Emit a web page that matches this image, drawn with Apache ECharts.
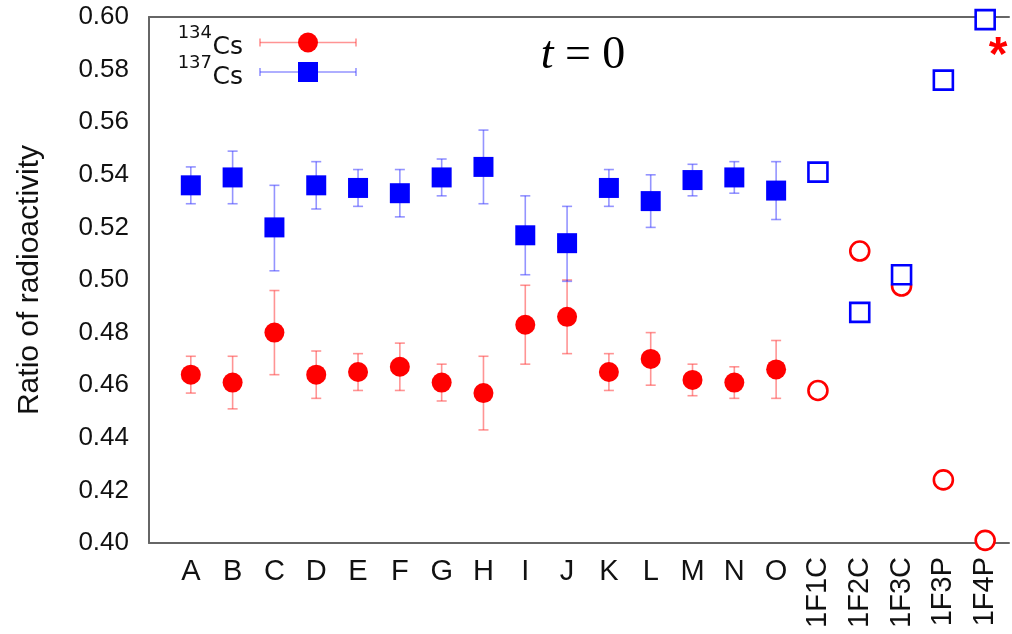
<!DOCTYPE html>
<html>
<head>
<meta charset="utf-8">
<script src="https://cdn.jsdelivr.net/npm/echarts@6/dist/echarts.min.js"></script>
<style>
html,body{margin:0;padding:0;background:#fff;}
#chart{width:1012px;height:634px;}
</style>
</head>
<body>
<div id="chart"></div>
<script>
// ---- data ----
var categories = ['A','B','C','D','E','F','G','H','I','J','K','L','M','N','O','1F1C','1F2C','1F3C','1F3P','1F4P'];
var cs134 = [0.464,0.461,0.480,0.464,0.465,0.467,0.461,0.457,0.483,0.486,0.465,0.470,0.462,0.461,0.466,0.458,0.511,0.4977,0.424,0.401];
var cs134Low = [0.457,0.451,0.464,0.455,0.458,0.458,0.454,0.443,0.468,0.472,0.458,0.460,0.456,0.455,0.455];
var cs134High = [0.471,0.471,0.496,0.473,0.472,0.476,0.468,0.471,0.498,0.500,0.472,0.480,0.468,0.467,0.477];
var cs137 = [0.536,0.539,0.520,0.536,0.535,0.533,0.539,0.543,0.517,0.514,0.535,0.530,0.538,0.539,0.534,0.541,0.4877,0.502,0.576,0.599];
var cs137Low = [0.529,0.529,0.5035,0.527,0.528,0.524,0.532,0.529,0.502,0.4995,0.528,0.520,0.532,0.533,0.523];
var cs137High = [0.543,0.549,0.536,0.545,0.542,0.542,0.546,0.557,0.532,0.528,0.542,0.540,0.544,0.545,0.545];
var yTicks = ['0.40','0.42','0.44','0.46','0.48','0.50','0.52','0.54','0.56','0.58','0.60'];
var nMeasured = 15;

// ---- build ----
function pts(vals, from, to) {
  var out = [];
  for (var i = from; i < to; i++) out.push([i, vals[i]]);
  return out;
}
function errs(lo, hi) {
  var out = [];
  for (var i = 0; i < lo.length; i++) out.push([i, lo[i], hi[i]]);
  return out;
}
function errRender(color) {
  return function (params, api) {
    var x = api.value(0);
    var a = api.coord([x, api.value(1)]);
    var b = api.coord([x, api.value(2)]);
    var w = 5;
    var st = { stroke: color, lineWidth: 1.6 };
    return {
      type: 'group',
      children: [
        { type: 'line', shape: { x1: a[0], y1: a[1], x2: b[0], y2: b[1] }, style: st },
        { type: 'line', shape: { x1: a[0] - w, y1: a[1], x2: a[0] + w, y2: a[1] }, style: st },
        { type: 'line', shape: { x1: b[0] - w, y1: b[1], x2: b[0] + w, y2: b[1] }, style: st }
      ]
    };
  };
}
function catLabel(lo, hi) {
  return function (v) {
    var i = Math.round(v);
    if (Math.abs(v - i) > 1e-6 || i < lo || i >= hi) return '';
    return categories[i];
  };
}
var axisLineStyle = { color: '#666', width: 2 };
var RED = '#ff0000', BLUE = '#0000ff';
var RED_ERR = 'rgba(255,60,60,0.55)', BLUE_ERR = 'rgba(60,60,255,0.55)';

var chart = echarts.init(document.getElementById('chart'), null, { renderer: 'canvas' });
var option = {
  animation: false,
  backgroundColor: '#fff',
  grid: { left: 149, top: 17, right: 0, bottom: 91, containLabel: false },
  xAxis: [
    {
      type: 'value', position: 'bottom', min: -1, max: 19.57, interval: 1,
      axisLine: { show: true, onZero: false, lineStyle: axisLineStyle },
      axisTick: { show: false }, splitLine: { show: false },
      axisLabel: { formatter: catLabel(0, nMeasured), fontSize: 29, fontFamily: 'Liberation Sans', color: '#111', margin: 14, showMinLabel: true, showMaxLabel: true }
    },
    {
      type: 'value', position: 'bottom', min: -1, max: 19.57, interval: 1,
      axisLine: { show: false, onZero: false }, axisTick: { show: false }, splitLine: { show: false },
      axisLabel: { formatter: catLabel(nMeasured, categories.length), rotate: 90, fontSize: 29, fontFamily: 'Liberation Sans', color: '#111', margin: 14 }
    },
    {
      type: 'value', position: 'top', min: -1, max: 19.57, interval: 1,
      axisLine: { show: true, onZero: false, lineStyle: axisLineStyle },
      axisTick: { show: false }, splitLine: { show: false }, axisLabel: { show: false }
    }
  ],
  yAxis: {
    type: 'value', min: 0.40, max: 0.60, interval: 0.02, position: 'left',
    name: 'Ratio of radioactivity', nameLocation: 'middle', nameGap: 104, nameRotate: 90,
    nameTextStyle: { fontSize: 30, fontFamily: 'Liberation Sans', color: '#111' },
    axisLine: { show: true, onZero: false, lineStyle: axisLineStyle },
    axisTick: { show: false }, splitLine: { show: false },
    axisLabel: {
      formatter: function (v) { return yTicks[Math.round((v - 0.40) / 0.02)] || ''; },
      fontSize: 26, fontFamily: 'Liberation Sans', color: '#111', margin: 20
    }
  },
  series: [
    { type: 'custom', name: '134Cs err', xAxisIndex: 0, renderItem: errRender(RED_ERR), data: errs(cs134Low, cs134High), z: 1, silent: true },
    { type: 'custom', name: '137Cs err', xAxisIndex: 0, renderItem: errRender(BLUE_ERR), data: errs(cs137Low, cs137High), z: 1, silent: true },
    { type: 'scatter', name: '134Cs', xAxisIndex: 0, symbol: 'circle', symbolSize: 20, clip: false,
      itemStyle: { color: RED, opacity: 1 }, data: pts(cs134, 0, nMeasured), z: 2 },
    { type: 'scatter', name: '134Cs site', xAxisIndex: 0, symbol: 'circle', symbolSize: 19, clip: false,
      itemStyle: { color: '#fff', borderColor: RED, borderWidth: 2.6, opacity: 1 }, data: pts(cs134, nMeasured, categories.length), z: 2 },
    { type: 'scatter', name: '137Cs', xAxisIndex: 0, symbol: 'rect', symbolSize: 20, clip: false,
      itemStyle: { color: BLUE, opacity: 1 }, data: pts(cs137, 0, nMeasured), z: 3 },
    { type: 'scatter', name: '137Cs site', xAxisIndex: 0, symbol: 'rect', symbolSize: 19, clip: false,
      itemStyle: { color: '#fff', borderColor: BLUE, borderWidth: 2.6, opacity: 1 }, data: pts(cs137, nMeasured, categories.length), z: 3 }
  ],
  graphic: [
    // legend: 134Cs
    { type: 'text', style: { x: 212, y: 33, text: '134', textAlign: 'right', textVerticalAlign: 'middle', font: '18px "DejaVu Sans"', fill: '#111' } },
    { type: 'text', style: { x: 243, y: 47, text: 'Cs', textAlign: 'right', textVerticalAlign: 'middle', font: '25px "DejaVu Sans"', fill: '#111' } },
    { type: 'line', shape: { x1: 260, y1: 42.5, x2: 356, y2: 42.5 }, style: { stroke: RED_ERR, lineWidth: 1.6 } },
    { type: 'line', shape: { x1: 260, y1: 38.5, x2: 260, y2: 46.5 }, style: { stroke: RED_ERR, lineWidth: 1.6 } },
    { type: 'line', shape: { x1: 356, y1: 38.5, x2: 356, y2: 46.5 }, style: { stroke: RED_ERR, lineWidth: 1.6 } },
    { type: 'circle', shape: { cx: 308, cy: 42.5, r: 10 }, style: { fill: RED } },
    // legend: 137Cs
    { type: 'text', style: { x: 212, y: 63, text: '137', textAlign: 'right', textVerticalAlign: 'middle', font: '18px "DejaVu Sans"', fill: '#111' } },
    { type: 'text', style: { x: 243, y: 77, text: 'Cs', textAlign: 'right', textVerticalAlign: 'middle', font: '25px "DejaVu Sans"', fill: '#111' } },
    { type: 'line', shape: { x1: 260, y1: 72, x2: 356, y2: 72 }, style: { stroke: BLUE_ERR, lineWidth: 1.6 } },
    { type: 'line', shape: { x1: 260, y1: 68, x2: 260, y2: 76 }, style: { stroke: BLUE_ERR, lineWidth: 1.6 } },
    { type: 'line', shape: { x1: 356, y1: 68, x2: 356, y2: 76 }, style: { stroke: BLUE_ERR, lineWidth: 1.6 } },
    { type: 'rect', shape: { x: 298, y: 62, width: 20, height: 20 }, style: { fill: BLUE } },
    // t = 0
    { type: 'text', style: { x: 583, y: 56, textAlign: 'center', textVerticalAlign: 'middle',
        text: '{i|t} {n|= 0}',
        rich: { i: { fontFamily: 'Liberation Serif', fontStyle: 'italic', fontSize: 46, fill: '#000' },
                n: { fontFamily: 'Liberation Serif', fontSize: 46, fill: '#000' } },
        font: '46px "Liberation Serif"', fill: '#000' } },
    // asterisk
    { type: 'text', style: { x: 998, y: 57, text: '*', textAlign: 'center', textVerticalAlign: 'middle', font: 'bold 48px "Liberation Sans"', fill: RED } }
  ]
};
chart.setOption(option);
</script>
</body>
</html>
